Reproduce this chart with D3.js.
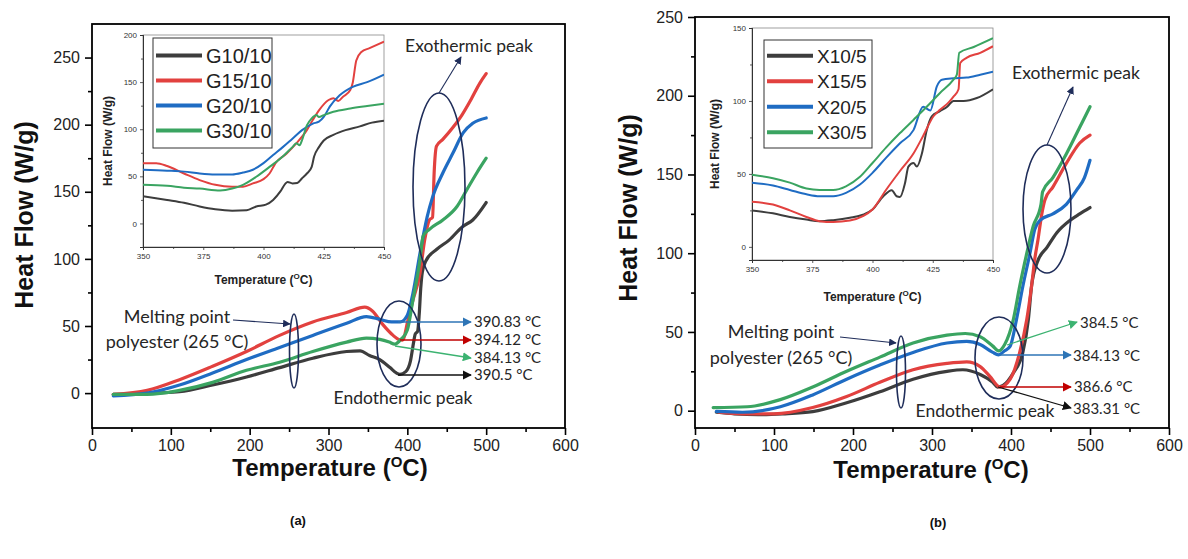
<!DOCTYPE html>
<html><head><meta charset="utf-8">
<script src="https://cdn.jsdelivr.net/npm/d3@7"></script>
<style>body{margin:0;background:#fff} svg{display:block}</style>
</head><body><svg id="c" width="1188" height="559"></svg>
<script>
// ---------------- DATA ----------------
const namesA = ["G10/10","G15/10","G20/10","G30/10"];
const namesB = ["X10/5","X15/5","X20/5","X30/5"];
const colors = ["#3d3d3d","#e2413f","#1f6cc3","#3aa461"];
const mainXTicks = [0,100,200,300,400,500,600];
const mainXMinor = [50,150,250,350,450,550];
const mainYTicks = [0,50,100,150,200,250];
const mainYMinorA = [25,75,125,175,225];
const mainYMinorB = [25,75,125,175,225];
const insetXTicks = [350,375,400,425,450];
const insetXMinor = [362.5,387.5,412.5,437.5];
const insetYTicksA = [0,50,100,150,200];
const insetYMinorA = [-25,25,75,125,175];
const insetYTicksB = [0,50,100,150];
const insetYMinorB = [25,75,125];
const endoLabelsA = ["390.83 °C","394.12 °C","384.13 °C","390.5 °C"];
const endoLabelsB = ["384.5 °C","384.13 °C","386.6 °C","383.31 °C"];

// main chart (a) : [temperature, heat flow]
const mainA_G10 = [[27,-1],[50,-1],[80,0],[111,1],[153,6],[196,12],[238,19],[280,26],[323,31],[340,31.5],[352,28],[365,25],[378,19],[386,15],[390.5,14],[398,16],[404,24],[408,38],[410,44],[413,46],[415,58],[417,78],[419,90],[424,99],[437,107],[453,114],[470,124],[483,129],[500,142]];
const mainA_G15 = [[27,-1],[70,2],[111,10],[153,20],[196,31],[238,43],[280,53],[323,60],[346,64],[356,61],[369,51],[382,43],[389,40],[394,39.5],[401,55],[407,69],[416,89],[422,114],[428,129],[432,131],[434,164],[437,184],[445,189],[458,198],[469,207],[481,219],[492,231],[500,238]];
const mainA_G20 = [[27,-2],[70,0],[111,6],[153,15],[196,25],[238,34],[280,43],[323,52],[348,57],[365,55],[380,53],[391,53],[400,58],[407,74],[416,104],[425,131],[432,146],[445,164],[458,179],[471,194],[483,201],[500,205]];
const mainA_G30 = [[27,-1],[70,-1],[111,2],[153,8],[196,17],[238,23],[280,31],[323,38],[348,41],[365,40],[377,38],[384,36.5],[392,40],[400,47],[407,69],[416,99],[420,117],[428,122],[445,129],[463,139],[475,151],[488,164],[500,175]];

// main chart (b)
const mainB_X10 = [[27,-1],[50,-2],[80,-2.5],[111,-2],[149,-0.6],[192,5],[234,12],[276,20],[319,25],[339,26],[361,23],[377,18],[383,15],[390,16],[403,24],[415,37],[422,58],[426,79],[433,94],[446,104],[458,113],[475,121],[487,125],[500,129]];
const mainB_X15 = [[30,-1],[60,-2],[100,-2],[149,2],[192,9],[234,18],[276,26],[319,30],[344,31],[361,28],[373,22],[386,15],[399,20],[411,37],[420,58],[426,79],[430,96],[434,108],[439,125],[443,134],[453,142],[470,157],[487,170],[500,175]];
const mainB_X20 = [[27,-0.5],[60,-1],[108,2.5],[149,10],[192,20],[234,29],[276,37],[319,43],[344,44],[361,42],[377,37],[384,35.5],[392,38],[399,41],[407,58],[415,79],[424,100],[430,115],[437,121],[453,125],[470,131],[483,140],[493,148],[500,159]];
const mainB_X30 = [[23,2],[66,2.5],[108,7],[149,15],[192,25],[234,34],[276,43],[319,48],[342,49],[361,47],[377,41],[384.5,38],[392,42],[403,58],[411,79],[420,100],[428,117],[438,131],[440,139],[453,148],[470,163],[487,180],[500,193]];

// inset (a)
const insetA_G10 = [[350,29],[360,25],[367,22],[373.5,18],[380,15],[387,13.5],[393,14],[397,18],[401,20],[404,25],[407,34],[409,42],[410,44],[412,42.5],[414,43],[416,48],[418,53],[420,60],[421,71],[423,81],[425,88],[429,94],[434,99],[440,103],[445,107],[450,109]];
const insetA_G15 = [[350,64],[355.5,64],[360,61],[367,53],[373.5,46],[380,41],[387,39],[391.5,39],[395.6,42.5],[400,47],[402.5,53],[405,64],[409.5,74],[413.6,85],[418,99],[420.5,110],[423,120],[427,131],[429,133],[431,130],[433,134.5],[436,141.6],[437,149],[438.5,173],[440.6,182],[444,186],[450,193]];
const insetA_G20 = [[350,57],[360,56],[367,55],[373.5,53],[380,52],[387,52],[391.5,54],[395.6,57],[400,64],[404,72.6],[408,81],[412,90],[416,99],[420.5,106],[423,108],[425,113],[427.5,124],[431.6,136],[437,145],[443,150],[450,158]];
const insetA_G30 = [[350,41],[360,40],[367,38],[373.5,37],[382,35],[387,37],[391.5,41],[397,49.6],[402.5,60],[408,71],[412,81],[413.6,85],[415,83],[416,88.5],[418,104],[420,111.5],[422,115],[423,113],[425,115],[429,118.6],[436,122],[443,124.6],[450,127]];

// inset (b)
const insetB_X10 = [[350,25],[358.7,23],[365.7,20.5],[372.6,18.7],[378,17.6],[383.7,18.3],[390.6,19.9],[396,22],[400,25.6],[404.5,34.7],[408,38.8],[410,34.7],[411.4,34.2],[413.5,43.8],[414.9,55],[417,57.5],[418.4,55],[420.5,64],[422.5,80],[424.6,89.5],[428,93],[431,96],[433.6,100],[437.8,100],[443.3,102],[450,108]];
const insetB_X15 = [[350,31],[358.7,29],[365.7,25],[372.6,20.5],[378,17.6],[383.7,17],[390.6,18],[396,21],[400,25.6],[405.6,39],[411.4,52],[417,64],[421,76],[425.3,89.5],[428,94],[431.6,99],[433.6,103],[435.7,108],[436.4,126],[439,129.5],[444.7,133],[450,137.5]];
const insetB_X20 = [[350,44],[358.7,42],[365.7,39],[372.6,36],[378,34.7],[383.7,34.7],[389,37],[394.8,42.7],[400,50.7],[405.6,61],[411.4,71],[417,80],[421,96],[424,93.5],[426.7,110],[428.8,114.6],[433.6,115.5],[439,116],[444.7,118],[450,120]];
const insetB_X30 = [[350,49.5],[358.7,47],[365.7,44],[372.6,40],[378,39],[383.7,39],[389,41.5],[394.8,48],[400,57.5],[405.6,68],[411.4,78],[417,87],[422.5,96],[428,105.5],[433.6,114.6],[435,118],[436,133],[442,137],[450,143]];

// ---------------- DRAW ----------------
const svg = d3.select("#c");
svg.append("rect").attr("width",1188).attr("height",559).attr("fill","#fff");
const defs = svg.append("defs");
function marker(id,color){
  defs.append("marker").attr("id",id).attr("viewBox","0 0 10 10").attr("refX",9).attr("refY",5)
    .attr("markerWidth",7).attr("markerHeight",7).attr("orient","auto-start-reverse")
    .append("path").attr("d","M0,0L10,5L0,10z").attr("fill",color);
}
marker("mBlue","#2e75b6"); marker("mRed","#c00000"); marker("mGreen","#3cb371");
marker("mBlack","#111"); marker("mNavy","#1f2d5a");
const arrowMarks = {blue:"mBlue",red:"mRed",green:"mGreen",black:"mBlack",navy:"mNavy"};
const arrowCols = {blue:"#2e75b6",red:"#c00000",green:"#3cb371",black:"#111",navy:"#1f2d5a"};
const FONT = "'Liberation Sans', Arial, sans-serif";
const ANN = "Lato, 'Open Sans', sans-serif";

function lineGen(x,y){ return d3.line().x(d=>x(d[0])).y(d=>y(d[1])).curve(d3.curveMonotoneX); }

function drawMain(L, series, yTicks, yMinor){
  const x = d3.scaleLinear().domain([0,600]).range([L.x0,L.x1]);
  const y = d3.scaleLinear().domain(L.yd).range([L.y1,L.y0]);
  const g = svg.append("g");
  g.append("g").attr("transform",`translate(0,${L.y1})`)
    .call(d3.axisBottom(x).tickValues(mainXTicks).tickSize(7).tickPadding(5));
  g.append("g").attr("transform",`translate(0,${L.y1})`)
    .call(d3.axisBottom(x).tickValues(mainXMinor).tickSize(4).tickFormat(""));
  g.append("g").attr("transform",`translate(${L.x0},0)`)
    .call(d3.axisLeft(y).tickValues(yTicks).tickSize(7).tickPadding(5));
  g.append("g").attr("transform",`translate(${L.x0},0)`)
    .call(d3.axisLeft(y).tickValues(yMinor).tickSize(4).tickFormat(""));
  g.selectAll(".domain").remove();
  g.selectAll(".tick line").attr("stroke","#000").attr("stroke-width",1.6);
  g.selectAll(".tick text").attr("font-family",FONT).attr("font-size",16).attr("fill","#222");
  g.append("rect").attr("x",L.x0).attr("y",L.y0).attr("width",L.x1-L.x0).attr("height",L.y1-L.y0)
    .attr("fill","none").attr("stroke","#000").attr("stroke-width",1.8);
  const lg = lineGen(x,y);
  series.forEach((s,i)=>{
    g.append("path").attr("d",lg(s)).attr("fill","none").attr("stroke",colors[i])
      .attr("stroke-width",3.2).attr("stroke-linejoin","round").attr("stroke-linecap","round");
  });
  g.append("text").attr("transform",`translate(${L.ytx},${L.yty}) rotate(-90)`)
    .attr("text-anchor","middle").attr("font-family",FONT).attr("font-weight","bold")
    .attr("font-size",25).attr("fill","#111").text("Heat Flow (W/g)");
  const t = g.append("text").attr("x",L.xtx).attr("y",L.xty).attr("text-anchor","middle")
    .attr("font-family",FONT).attr("font-weight","bold").attr("font-size",24).attr("fill","#111");
  t.append("tspan").text("Temperature (");
  t.append("tspan").attr("font-size",15).attr("dy",-9).text("O");
  t.append("tspan").attr("dy",9).text("C)");
  g.append("text").attr("x",L.xtx+L.capdx).attr("y",L.capy).attr("text-anchor","middle")
    .attr("font-family",FONT).attr("font-weight","bold").attr("font-size",13).attr("fill","#111").text(L.cap);
  return {x,y,g};
}

function drawInset(L, series, names, yTicks, yMinor){
  const x = d3.scaleLinear().domain([350,450]).range([L.x0,L.x1]);
  const y = d3.scaleLinear().domain(L.yd).range([L.y1,L.y0]);
  const g = svg.append("g");
  g.append("rect").attr("x",L.x0-50).attr("y",L.y0-5).attr("width",L.x1-L.x0+56).attr("height",L.y1-L.y0+60).attr("fill","#fff");
  const clipId = "clip"+L.id;
  defs.append("clipPath").attr("id",clipId).append("rect").attr("x",L.x0).attr("y",L.y0).attr("width",L.x1-L.x0).attr("height",L.y1-L.y0);
  g.append("rect").attr("x",L.x0).attr("y",L.y0).attr("width",L.x1-L.x0).attr("height",L.y1-L.y0)
    .attr("fill","none").attr("stroke","#888").attr("stroke-width",0.8);
  g.append("g").attr("transform",`translate(0,${L.y1})`)
    .call(d3.axisBottom(x).tickValues(insetXTicks).tickSize(3).tickPadding(3));
  g.append("g").attr("transform",`translate(0,${L.y1})`)
    .call(d3.axisBottom(x).tickValues(insetXMinor).tickSize(2).tickFormat(""));
  g.append("g").attr("transform",`translate(${L.x0},0)`)
    .call(d3.axisLeft(y).tickValues(yTicks).tickSize(3).tickPadding(3));
  g.append("g").attr("transform",`translate(${L.x0},0)`)
    .call(d3.axisLeft(y).tickValues(yMinor).tickSize(2).tickFormat(""));
  g.selectAll(".domain").attr("stroke","#333").attr("stroke-width",1);
  g.selectAll(".tick line").attr("stroke","#333").attr("stroke-width",0.8);
  g.selectAll(".tick text").attr("font-family",FONT).attr("font-size",8).attr("fill","#333");
  const lg = lineGen(x,y);
  const cg = g.append("g").attr("clip-path",`url(#${clipId})`);
  series.forEach((s,i)=>{
    cg.append("path").attr("d",lg(s)).attr("fill","none").attr("stroke",colors[i])
      .attr("stroke-width",2).attr("stroke-linejoin","round");
  });
  g.append("text").attr("transform",`translate(${L.ytx},${(L.y0+L.y1)/2}) rotate(-90)`)
    .attr("text-anchor","middle").attr("font-family",FONT).attr("font-weight","bold")
    .attr("font-size",12).attr("fill","#222").text("Heat Flow (W/g)");
  const t = g.append("text").attr("x",(L.x0+L.x1)/2).attr("y",L.xty).attr("text-anchor","middle")
    .attr("font-family",FONT).attr("font-weight","bold").attr("font-size",12).attr("fill","#222");
  t.append("tspan").text("Temperature (");
  t.append("tspan").attr("font-size",8).attr("dy",-5).text("O");
  t.append("tspan").attr("dy",5).text("C)");
  const lgG = g.append("g");
  lgG.append("rect").attr("x",L.lx).attr("y",L.ly).attr("width",L.lw).attr("height",L.lh)
    .attr("fill","#fff").attr("stroke","#333").attr("stroke-width",1);
  names.forEach((n,i)=>{
    const yy = L.ly + L.lstep*(i+0.5) + L.loff;
    lgG.append("line").attr("x1",L.lx+3).attr("x2",L.lx+L.lline).attr("y1",yy).attr("y2",yy)
      .attr("stroke",colors[i]).attr("stroke-width",4);
    lgG.append("text").attr("x",L.lx+L.lline+4).attr("y",yy+7).attr("font-family",FONT)
      .attr("font-size",L.lfs).attr("fill","#222").text(n);
  });
}

function ellipse(cx,cy,rx,ry){
  svg.append("ellipse").attr("cx",cx).attr("cy",cy).attr("rx",rx).attr("ry",ry)
    .attr("fill","none").attr("stroke","#1f2d5a").attr("stroke-width",1.6);
}
function arrow(x1,y1,x2,y2,c,w){
  svg.append("line").attr("x1",x1).attr("y1",y1).attr("x2",x2).attr("y2",y2)
    .attr("stroke",arrowCols[c]).attr("stroke-width",w||1.2).attr("marker-end",`url(#${arrowMarks[c]})`);
}
function label(x,y,txt,size,anchor){
  svg.append("text").attr("x",x).attr("y",y).attr("text-anchor",anchor||"start")
    .attr("font-family",ANN).attr("font-size",size).attr("fill","#262626").text(txt);
}

// ---- panel a ----
const LA = {x0:92,x1:565,y0:24,y1:428,yd:[-26,275],ytx:33,yty:215,xtx:330,xty:476,capy:525,cap:"(a)",capdx:-32};
drawMain(LA,[mainA_G10,mainA_G15,mainA_G20,mainA_G30],mainYTicks,mainYMinorA);
drawInset({id:"a",x0:143,x1:384,y0:35,y1:247,yd:[-25,200],ytx:112,xty:284,
  lx:153,ly:38,lw:119,lh:110,lstep:25,loff:5,lline:49,lfs:20},
  [insetA_G10,insetA_G15,insetA_G20,insetA_G30],namesA,insetYTicksA,insetYMinorA);

// ---- panel b ----
const LB = {x0:695,x1:1169,y0:17,y1:428,yd:[-11,250],ytx:637,yty:208,xtx:931,xty:478,capy:527,cap:"(b)",capdx:7};
drawMain(LB,[mainB_X10,mainB_X15,mainB_X20,mainB_X30],mainYTicks,mainYMinorB);
drawInset({id:"b",x0:752,x1:993,y0:28,y1:260,yd:[-9,150],ytx:719,xty:301,
  lx:764,ly:40,lw:108,lh:108,lstep:25.5,loff:3,lline:49,lfs:19},
  [insetB_X10,insetB_X15,insetB_X20,insetB_X30],namesB,insetYTicksB,insetYMinorB);

// ---- annotations a ----
ellipse(439,187,26,94);
ellipse(399,344,22,43);
ellipse(294,351,4.5,37);
arrow(439,93,461,57,"navy",1.1);
label(469,52,"Exothermic peak",17.5,"middle");
label(403,404,"Endothermic peak",17.5,"middle");
label(177,323,"Melting point",18,"middle");
label(177,348,"polyester (265 °C)",18,"middle");
arrow(233,320,290,324,"navy",1.1);
const arrA = [["blue",398,322,471,322],["red",400,340,471,340],["green",395,346,471,358],["black",398,375,471,375]];
const baseA = [327,345,363,380];
arrA.forEach((a,i)=>{ arrow(a[1],a[2],a[3],a[4],a[0],1.3); label(474,baseA[i],endoLabelsA[i],15); });

// ---- annotations b ----
ellipse(1047,209,24,64);
ellipse(999,358,24,41);
ellipse(901,372,4.5,36);
arrow(1047,145,1073,87,"navy",1.1);
label(1076,79,"Exothermic peak",17.5,"middle");
label(985,417,"Endothermic peak",17.5,"middle");
label(781,338,"Melting point",18,"middle");
label(781,364,"polyester (265 °C)",18,"middle");
arrow(840,337,896,343,"navy",1.1);
const arrB = [["green",1007,345,1077,322],["blue",1000,355,1071,355],["red",1000,387,1071,387],["black",998,387,1071,408]];
const posB = [[1080,328],[1073,361],[1074,392],[1073,414]];
arrB.forEach((a,i)=>{ arrow(a[1],a[2],a[3],a[4],a[0],1.3); label(posB[i][0],posB[i][1],endoLabelsB[i],15); });
</script></body></html>
